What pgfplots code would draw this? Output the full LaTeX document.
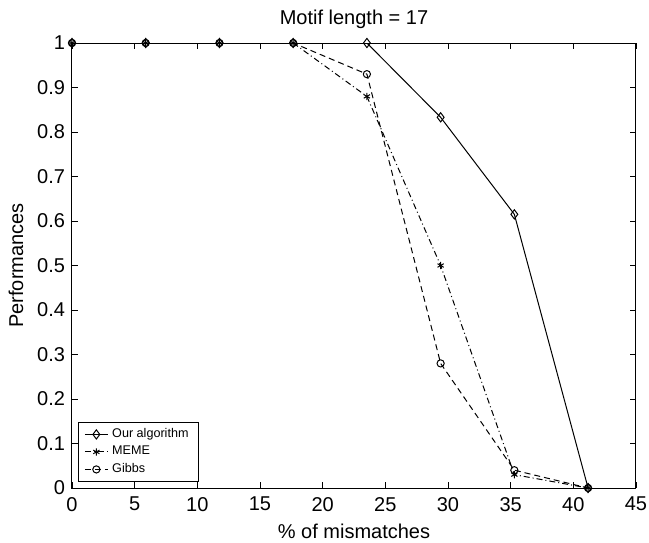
\documentclass[border=0pt]{standalone}
\usepackage{fontspec}
\setmainfont{Liberation Sans}
\usepackage{pgfplots}
\pgfplotsset{compat=1.18}

% values; x = mismatches out of 17, in %
\begin{document}
\begin{tikzpicture}
\begin{axis}[
  name=ax, at={(0,0)}, anchor=south west,
  scale only axis, width=282pt, height=222.5pt,
  xmin=0, xmax=45, ymin=0, ymax=1,
  xtick={0,5,...,45}, ytick={0,0.1,...,1},
  tick align=inside, major tick length=3pt,
  axis line style={line width=0.5pt},
  every tick/.style={black, line width=0.4pt},
  font=\fontsize{10}{11}\selectfont,
  /pgf/number format/assume math mode=true,
  title={Motif length = 17},
  title style={yshift=-2.5pt},
  xlabel={\% of mismatches}, ylabel={Performances},
  xlabel style={yshift=0.5pt},
  xticklabel style={yshift=-1pt},
  legend style={at={(0.0106,0.0135)}, anchor=south west,
    font=\fontsize{6.3}{7}\selectfont, draw=black, line width=0.5pt,
    inner ysep=1pt, inner xsep=3pt, row sep=-1.2pt},
  legend cell align=left,
  legend image code/.code={\draw[mark repeat=2,mark phase=2]
    plot coordinates {(0cm,0cm) (0.2cm,0cm) (0.4cm,0cm)};},
  every axis plot/.append style={line width=0.5pt, black},
]
\addplot[solid, mark=diamond, mark size=2.3pt, mark options={solid, fill=white}]
  coordinates {(0,1) (5.882,1) (11.765,1) (17.647,1) (23.529,1) (29.412,0.833) (35.294,0.615) (41.176,0)};
\addlegendentry{Our algorithm}
\addplot[dash pattern=on 3pt off 1.5pt on 0.5pt off 1.5pt, mark=asterisk, mark size=1.8pt, mark options={solid}]
  coordinates {(0,1) (5.882,1) (11.765,1) (17.647,1) (23.529,0.88) (29.412,0.5) (35.294,0.03) (41.176,0)};
\addlegendentry{MEME}
\addplot[dash pattern=on 3pt off 2pt, mark=o, mark size=1.8pt, mark options={solid}]
  coordinates {(0,1) (5.882,1) (11.765,1) (17.647,1) (23.529,0.93) (29.412,0.28) (35.294,0.04) (41.176,0)};
\addlegendentry{Gibbs}
\end{axis}
\pgfresetboundingbox
\path[use as bounding box] ([xshift=-36pt,yshift=-27pt]ax.south west) rectangle ([xshift=6.5pt,yshift=21.5pt]ax.north east);
\end{tikzpicture}
\end{document}
